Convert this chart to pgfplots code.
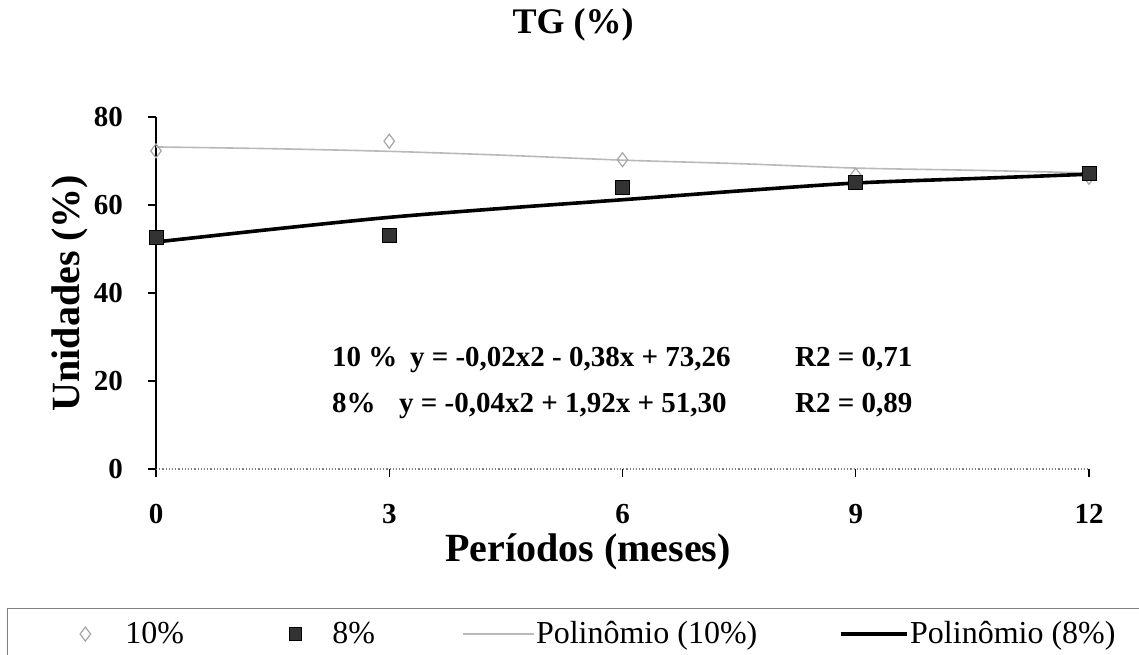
\documentclass[border=0pt]{standalone}
\usepackage{fontspec}
\setmainfont{Liberation Serif}
\usepackage{pgfplots}
\pgfplotsset{compat=1.18}
\pgfplotsset{
  markleg/.style={legend image code/.code={\path[draw=none,fill=none] (0pt,-5pt) rectangle (17pt,5pt); \draw[##1] plot coordinates {(8.5pt,0pt)};}},
  lineleg/.style={legend image code/.code={\draw[##1] (0pt,0pt) -- (#1,0pt);}},
}
\begin{document}
\begin{tikzpicture}
\path[use as bounding box] (-78pt,-92.5pt) rectangle (491.5pt,234.5pt);
\begin{axis}[
  at={(0pt,0pt)}, anchor=south west,
  scale only axis, width=466.5pt, height=176pt,
  xmin=0, xmax=12, ymin=0, ymax=80,
  axis lines*=left,
  x axis line style={draw=gray, densely dotted, line width=0.6pt},
  y axis line style={draw=black, line width=0.7pt},
  xtick={0,3,6,9,12}, ytick={0,20,40,60,80},
  tick align=outside,
  major tick length=4pt,
  tick style={black, line width=0.6pt},
  /pgf/number format/assume math mode=true,
  ticklabel style={font=\rmfamily\fontsize{14.5}{16}\selectfont\bfseries},
  yticklabel style={xshift=-9pt},
  xticklabel style={yshift=-10pt},
  title={TG (\%)},
  title style={at={(rel axis cs:0.447,1.2045)}, anchor=base, yshift=0pt, font=\rmfamily\fontsize{18}{20}\selectfont\bfseries},
  xlabel={Períodos (meses)},
  xlabel style={at={(rel axis cs:0.463,-0.264)}, anchor=base, font=\rmfamily\fontsize{20}{22}\selectfont\bfseries},
  ylabel={Unidades (\%)},
  ylabel style={at={(rel axis cs:-0.0922,0.5)}, anchor=center, font=\rmfamily\fontsize{20}{22}\selectfont\bfseries},
  legend columns=4,
  legend cell align=left,
  legend style={at={(rel axis cs:-0.1597,-0.3949)}, anchor=north west,
    draw=gray, line width=0.4pt, inner xsep=30.5pt, inner ysep=6.5pt,
    column sep=0pt, nodes={inner sep=0pt},
    font=\rmfamily\fontsize{16}{18}\selectfont},
]
% legend images (legend order)
\addlegendimage{only marks, mark=diamond, mark size=3.5pt, mark options={draw=gray!70, fill=white, line width=0.6pt, solid}, markleg}
\addlegendentry{\makebox[88pt][l]{\hspace{11.5pt}10\%}}
\addlegendimage{only marks, mark=square*, mark size=3.2pt, mark options={draw=black, fill=black!80, solid}, markleg}
\addlegendentry{\makebox[75pt][l]{\hspace{10pt}8\%}}
\addlegendimage{gray!55, line width=0.8pt, lineleg=35.5pt}
\addlegendentry{\makebox[152pt][l]{\hspace{0.5pt}Polinômio (10\%)}}
\addlegendimage{black, line width=1.6pt, lineleg=33pt}
\addlegendentry{\hspace{1pt}Polinômio (8\%)\rule[-18pt]{0pt}{1pt}\hspace{20pt}}

% trend lines
\addplot[forget plot, gray!55, line width=0.8pt, smooth] coordinates {
  (0,73.2) (1.5,72.8) (3,72.2) (4.5,71.3) (6,70.2) (7.5,69.4) (9,68.4) (10.5,67.9) (12,67.3)};
\addplot[forget plot, black, line width=1.8pt, smooth] coordinates {
  (0,51.6) (1.5,54.5) (3,57.2) (4.5,59.3) (6,61.2) (7.5,63.2) (9,65.0) (10.5,66.0) (12,67.0)};
% observed points
\addplot[forget plot, only marks, mark=diamond, mark size=3.5pt, mark options={draw=gray!70, fill=white, line width=0.6pt}] coordinates {
  (0,72.3) (3,74.5) (6,70.3) (9,66.8) (12,66.3)};
\addplot[forget plot, only marks, mark=square*, mark size=3.5pt, mark options={draw=black, fill=black!80}] coordinates {
  (0,52.7) (3,53.1) (6,63.9) (9,65.2) (12,67.3)};

% equations
\node[anchor=base west, font=\rmfamily\fontsize{14.5}{16}\selectfont\bfseries] at (axis cs:2.174,23.4) {10 \%};
\node[anchor=base west, font=\rmfamily\fontsize{14.5}{16}\selectfont\bfseries] at (axis cs:3.177,23.4) {y = -0,02x2 - 0,38x + 73,26};
\node[anchor=base west, font=\rmfamily\fontsize{14.5}{16}\selectfont\bfseries] at (axis cs:8.129,23.4) {R2 = 0,71};
\node[anchor=base west, font=\rmfamily\fontsize{14.5}{16}\selectfont\bfseries] at (axis cs:2.174,12.95) {8\%};
\node[anchor=base west, font=\rmfamily\fontsize{14.5}{16}\selectfont\bfseries] at (axis cs:3.036,12.95) {y = -0,04x2 + 1,92x + 51,30};
\node[anchor=base west, font=\rmfamily\fontsize{14.5}{16}\selectfont\bfseries] at (axis cs:8.129,12.95) {R2 = 0,89};
\end{axis}
\end{tikzpicture}
\end{document}
